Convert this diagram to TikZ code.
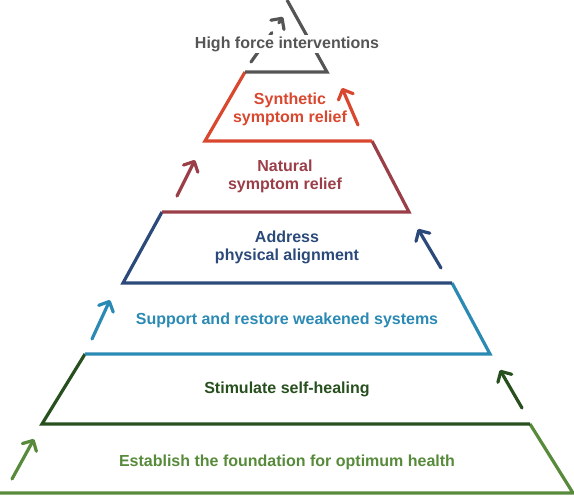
\documentclass[tikz,border=0pt]{standalone}
\usepackage{fontspec}
\setmainfont{Liberation Sans}
\usepackage{tikz}
\usetikzlibrary{positioning,arrows.meta}

\definecolor{foundgreen}{HTML}{578A3A}
\definecolor{healgreen}{HTML}{28501F}
\definecolor{supblue}{HTML}{2B8AB3}
\definecolor{alignnavy}{HTML}{2B4A7A}
\definecolor{natmaroon}{HTML}{9A3E48}
\definecolor{synred}{HTML}{D9472F}
\definecolor{forcegrey}{HTML}{555555}

\begin{document}
\begin{tikzpicture}[x=0.75pt, y=-0.75pt,
        tierline/.style={line width=2.4pt, line join=miter},
        tierarrow/.style={line width=2.4pt, line cap=round, -{Straight Barb[length=6pt, width=12pt, line cap=round, line join=round]}},
        tierlabel/.style={font=\bfseries\fontsize{12}{13.5}\selectfont, align=center, inner sep=1pt}]

        \useasboundingbox (0,0) rectangle (574,497);

        \coordinate (g1) at (0,493);
        \coordinate (g2) at (573,493);
        \coordinate (h1) at (42,424);
        \coordinate (h2) at (530,424);
        \coordinate (b1) at (85,354);
        \coordinate (b2) at (490,354);
        \coordinate (n1) at (123,283);
        \coordinate (n2) at (452,283);
        \coordinate (m1) at (162,212);
        \coordinate (m2) at (409,212);
        \coordinate (r1) at (205,141);
        \coordinate (r2) at (372,141);
        \coordinate (f1) at (245,72);
        \coordinate (f2) at (327,72);
        \coordinate (apex) at (287,0);

        \draw[tierline, foundgreen] (g1) -- (g2) -- (h2);
        \draw[tierline, healgreen] (b1) -- (h1) -- (h2);
        \draw[tierline, supblue] (b1) -- (b2) -- (n2);
        \draw[tierline, alignnavy] (m1) -- (n1) -- (n2);
        \draw[tierline, natmaroon] (m1) -- (m2) -- (r2);
        \draw[tierline, synred] (f1) -- (r1) -- (r2);
        \draw[tierline, forcegrey] (f1) -- (f2) -- (apex);

        \coordinate (ga) at (12,479);
        \coordinate (gb) at (34,439);
        \coordinate (ha) at (522,408);
        \coordinate (hb) at (500,370);
        \coordinate (ba) at (92,339);
        \coordinate (bb) at (110,300);
        \coordinate (na) at (441,268);
        \coordinate (nb) at (418,229);
        \coordinate (ma) at (177,196);
        \coordinate (mb) at (195,160);
        \coordinate (ra) at (358,125);
        \coordinate (rb) at (342,88);
        \coordinate (fa) at (251,62);
        \coordinate (fb) at (283,17);

        \draw[tierarrow, foundgreen] (ga) -- (gb);
        \draw[tierarrow, healgreen] (ha) -- (hb);
        \draw[tierarrow, supblue] (ba) -- (bb);
        \draw[tierarrow, alignnavy] (na) -- (nb);
        \draw[tierarrow, natmaroon] (ma) -- (mb);
        \draw[tierarrow, synred] (ra) -- (rb);
        \draw[tierarrow, forcegrey, dash pattern=on 9pt off 9pt] (fa) -- (fb);

        \node[tierlabel, foundgreen] (found) at (287,462) {Establish the foundation for optimum health};
        \node[tierlabel, healgreen] (heal) at (287,389) {Stimulate self-healing};
        \node[tierlabel, supblue] (support) at (287,320) {Support and restore weakened systems};
        \node[tierlabel, alignnavy] (align) at (287,247) {Address\\physical alignment};
        \node[tierlabel, natmaroon] (natural) at (285,176) {Natural\\symptom relief};
        \node[tierlabel, synred] (synthetic) at (290,109) {Synthetic\\symptom relief};
        \node[tierlabel, forcegrey, fill=white] (force) at (287,44) {High force interventions};

\end{tikzpicture}
\end{document}
